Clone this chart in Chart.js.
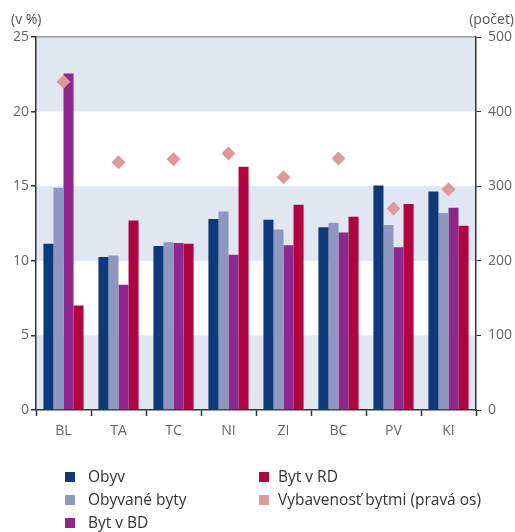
<!DOCTYPE html>
<html>
<head>
<meta charset="utf-8">
<script src="https://cdn.jsdelivr.net/npm/chart.js@4/dist/chart.umd.min.js"></script>
<style>
  html, body { margin: 0; padding: 0; background: #fff; }
  #wrap { position: relative; width: 515px; height: 532px; }
</style>
</head>
<body>
<div id="wrap"><canvas id="c" width="515" height="532"></canvas></div>
<script>
// Regions
const categories = ['BL', 'TA', 'TC', 'NI', 'ZI', 'BC', 'PV', 'KI'];

// Shares in % (left axis)
const obyv         = [11.15, 10.25, 11.0, 12.8, 12.75, 12.25, 15.05, 14.65];
const obyvaneByty  = [14.9, 10.35, 11.25, 13.3, 12.1, 12.55, 12.4, 13.2];
const bytBD        = [22.55, 8.4, 11.2, 10.4, 11.05, 11.9, 10.9, 13.55];
const bytRD        = [7.0, 12.7, 11.15, 16.3, 13.75, 12.95, 13.8, 12.35];

// Dwellings per 1000 inhabitants (right axis)
const vybavenost   = [440, 332, 336, 344, 312, 337, 270, 296];

const leftTicks  = [0, 5, 10, 15, 20, 25];
const rightTicks = [0, 100, 200, 300, 400, 500];

const FONT = '"Open Sans", "Noto Sans", sans-serif';
const BAND = '#e1e7f1';

// Alternating horizontal bands behind the bars
const bandsPlugin = {
  id: 'bands',
  beforeDraw(chart) {
    const { ctx, chartArea: a, scales: { y } } = chart;
    ctx.save();
    ctx.fillStyle = BAND;
    for (let i = 0; i + 1 < leftTicks.length; i += 2) {
      const top = y.getPixelForValue(leftTicks[i + 1]);
      const bot = y.getPixelForValue(leftTicks[i]);
      ctx.fillRect(a.left, top, a.right - a.left, bot - top);
    }
    ctx.restore();
  }
};

// Unit captions above both axes and the two-column legend
const textPlugin = {
  id: 'texts',
  afterDraw(chart) {
    const { ctx } = chart;
    ctx.save();
    ctx.font = '14px ' + FONT;
    ctx.fillStyle = '#555';
    ctx.textBaseline = 'middle';
    ctx.textAlign = 'left';
    ctx.fillText('(v %)', 11, 20);
    ctx.textAlign = 'right';
    ctx.fillText('(počet)', 514, 20);

    const ds = chart.data.datasets;
    const cols = [
      { x: 65, gap: 23, items: [0, 1, 2] },
      { x: 259, gap: 19, items: [3, 4] }
    ];
    const rowY = [477, 500, 523];
    ctx.font = '15.5px ' + FONT;
    ctx.textAlign = 'left';
    cols.forEach(col => {
      col.items.forEach((idx, r) => {
        const d = ds[idx];
        ctx.fillStyle = d.legendColor;
        ctx.fillRect(col.x, rowY[r] - 5, 10, 10);
        ctx.fillStyle = '#333';
        ctx.fillText(d.label, col.x + col.gap, rowY[r] + 1);
      });
    });
    ctx.restore();
  }
};

const barCommon = { barPercentage: 1.0, categoryPercentage: 0.73, yAxisID: 'y', order: 2 };

new Chart(document.getElementById('c'), {
  type: 'bar',
  data: {
    labels: categories,
    datasets: [
      { label: 'Obyv', data: obyv, backgroundColor: '#0f3a7a', legendColor: '#0f3a7a', ...barCommon },
      { label: 'Obyvané byty', data: obyvaneByty, backgroundColor: '#8f96bf', legendColor: '#8f96bf', ...barCommon },
      { label: 'Byt v BD', data: bytBD, backgroundColor: '#8f278f', legendColor: '#8f278f', ...barCommon },
      { label: 'Byt v RD', data: bytRD, backgroundColor: '#b10542', legendColor: '#b10542', ...barCommon },
      {
        type: 'line', label: 'Vybavenosť bytmi (pravá os)', data: vybavenost,
        yAxisID: 'y2', showLine: false, order: 1,
        pointStyle: 'rectRot', pointRadius: 7, pointHoverRadius: 7,
        backgroundColor: '#dc9a9c', borderColor: '#dc9a9c', borderWidth: 0,
        legendColor: '#dc9a9c'
      }
    ]
  },
  options: {
    responsive: false,
    animation: false,
    devicePixelRatio: 1,
    layout: { padding: { top: 37, left: 0, right: 0, bottom: 0 } },
    plugins: { legend: { display: false }, tooltip: { enabled: false } },
    scales: {
      x: {
        grid: { offset: true, drawOnChartArea: false, tickLength: 6, tickColor: '#333', tickWidth: 1.5 },
        border: { color: '#333', width: 1.5 },
        ticks: { color: '#666', font: { family: FONT, size: 14 }, padding: 7 },
        afterFit(s) { s.height = 122; }
      },
      y: {
        position: 'left', min: 0, max: 25,
        afterBuildTicks(s) { s.ticks = leftTicks.map(v => ({ value: v })); },
        grid: {
          color: ctx => (ctx.tick && ctx.tick.value === 25 ? '#999' : 'rgba(0,0,0,0)'),
          lineWidth: 1.5, tickLength: 5, tickColor: '#333', drawTicks: true
        },
        border: { color: '#333', width: 1.5 },
        ticks: { color: '#666', font: { family: FONT, size: 14 }, padding: 2 },
        afterFit(s) { s.width = 36; }
      },
      y2: {
        position: 'right', min: 0, max: 500,
        afterBuildTicks(s) { s.ticks = rightTicks.map(v => ({ value: v })); },
        grid: { drawOnChartArea: false, tickLength: 5, tickColor: '#333' },
        border: { color: '#333', width: 1.5 },
        ticks: { color: '#666', font: { family: FONT, size: 14 }, padding: 7 },
        afterFit(s) { s.width = 39; }
      }
    }
  },
  plugins: [bandsPlugin, textPlugin]
});
</script>
</body>
</html>
